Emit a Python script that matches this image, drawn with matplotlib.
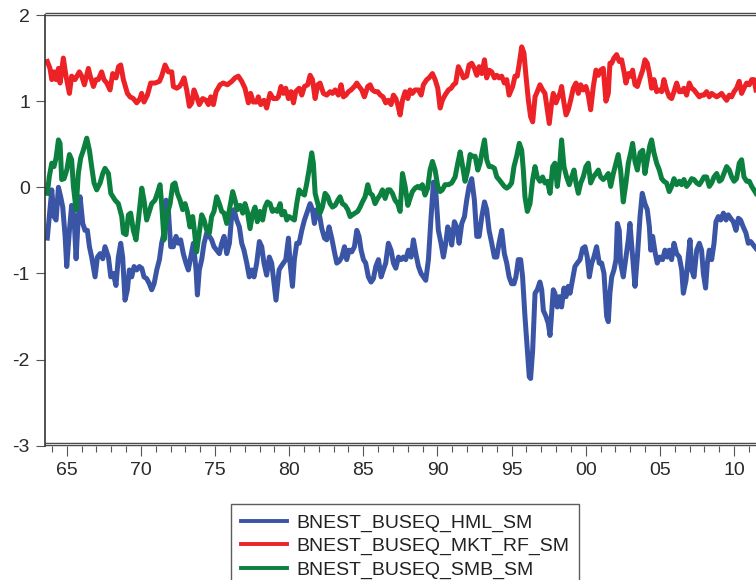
import matplotlib
matplotlib.use("Agg")
import matplotlib.pyplot as plt
from matplotlib.lines import Line2D
from matplotlib.transforms import ScaledTranslation

plt.rcParams['font.family'] = ['Liberation Sans', 'DejaVu Sans']
plt.rcParams['axes.unicode_minus'] = False

# ---- series (fractional year, value) ----
hml_t = [1963.69, 1963.87, 1963.99, 1964.14, 1964.28, 1964.44, 1964.59, 1964.73, 1964.89, 1965.00,
         1965.18, 1965.33, 1965.49, 1965.63, 1965.78, 1965.90, 1966.08, 1966.23, 1966.39, 1966.53,
         1966.68, 1966.91, 1967.07, 1967.25, 1967.43, 1967.58, 1967.81, 1967.97, 1968.14, 1968.32,
         1968.48, 1968.64, 1968.77, 1968.93, 1969.09, 1969.22, 1969.38, 1969.54, 1969.72, 1969.90,
         1970.06, 1970.21, 1970.39, 1970.57, 1970.73, 1970.89, 1971.07, 1971.25, 1971.40, 1971.56,
         1971.70, 1971.85, 1972.01, 1972.19, 1972.37, 1972.53, 1972.68, 1972.86, 1973.04, 1973.20,
         1973.36, 1973.54, 1973.72, 1973.81, 1973.94, 1974.10, 1974.26, 1974.44, 1974.62, 1974.77,
         1974.93, 1975.11, 1975.29, 1975.45, 1975.61, 1975.79, 1975.97, 1976.12, 1976.28, 1976.46,
         1976.64, 1976.80, 1976.95, 1977.14, 1977.31, 1977.47, 1977.63, 1977.81, 1977.99, 1978.15,
         1978.30, 1978.48, 1978.66, 1978.82, 1978.98, 1979.11,
         1979.32, 1979.45, 1979.61, 1979.77, 1979.95, 1980.06, 1980.22, 1980.35, 1980.51, 1980.67,
         1980.85, 1981.03, 1981.19, 1981.41, 1981.57, 1981.70, 1981.86, 1982.02, 1982.20, 1982.38,
         1982.53, 1982.69, 1982.87, 1983.05, 1983.21, 1983.37, 1983.55, 1983.73, 1983.88, 1984.04,
         1984.22, 1984.40, 1984.56, 1984.71, 1984.85, 1985.01, 1985.16, 1985.34, 1985.52, 1985.68,
         1985.84, 1986.02, 1986.20, 1986.35, 1986.51, 1986.69, 1986.87, 1987.03, 1987.19, 1987.37,
         1987.55, 1987.70, 1987.86, 1988.04, 1988.22, 1988.38, 1988.54, 1988.72, 1988.89, 1989.05,
         1989.21, 1989.39, 1989.57, 1989.73, 1989.88, 1990.06, 1990.24, 1990.40, 1990.56, 1990.69,
         1990.85, 1990.96, 1991.14, 1991.30, 1991.46, 1991.64, 1991.82, 1991.97, 1992.13, 1992.31,
         1992.49, 1992.65, 1992.81, 1992.99, 1993.17, 1993.32, 1993.48, 1993.66, 1993.84, 1994.00,
         1994.15, 1994.33, 1994.51, 1994.67, 1994.83,
         1995.00, 1995.16, 1995.29, 1995.45, 1995.61, 1995.74, 1995.90, 1996.06, 1996.19, 1996.28,
         1996.42, 1996.58, 1996.73, 1996.91, 1997.03, 1997.14, 1997.32, 1997.47, 1997.59, 1997.70,
         1997.81, 1997.92, 1998.08, 1998.22, 1998.37, 1998.53, 1998.67, 1998.82, 1998.94, 1999.12,
         1999.27, 1999.43, 1999.61, 1999.79, 1999.95, 2000.10, 2000.24, 2000.40, 2000.55, 2000.73,
         2000.91, 2001.07, 2001.23, 2001.41, 2001.52, 2001.63, 2001.75, 2001.90, 2002.04, 2002.13,
         2002.26, 2002.35, 2002.53, 2002.71, 2002.87, 2002.98, 2003.16, 2003.32, 2003.48, 2003.66,
         2003.81, 2003.99, 2004.15, 2004.29, 2004.38, 2004.51, 2004.67, 2004.82, 2005.00, 2005.18,
         2005.34, 2005.50, 2005.63, 2005.79, 2005.95, 2006.13, 2006.31, 2006.47, 2006.58, 2006.76,
         2006.91, 2007.03, 2007.14, 2007.30, 2007.48, 2007.66, 2007.81, 2007.93, 2008.08, 2008.20,
         2008.33, 2008.49, 2008.65, 2008.78, 2008.94, 2009.10, 2009.28, 2009.46, 2009.61, 2009.77,
         2009.95, 2010.13, 2010.29, 2010.44, 2010.62, 2010.80, 2010.96, 2011.12, 2011.30, 2011.48]
hml_v = [-0.59, -0.26, -0.03, -0.34, -0.38, 0.00, -0.11, -0.23, -0.57, -0.92,
         -0.50, -0.21, -0.34, -0.83, -0.34, -0.11, -0.42, -0.50, -0.50, -0.69,
         -0.81, -1.04, -0.81, -0.77, -0.83, -0.69, -0.81, -1.04, -1.00, -1.14,
         -0.81, -0.65, -0.81, -1.31, -1.19, -0.96, -1.04, -0.92, -0.96, -0.92,
         -0.94, -1.04, -1.06, -1.12, -1.19, -1.12, -0.96, -0.84, -0.65, -0.53,
         -0.15, -0.26, -0.69, -0.69, -0.57, -0.65, -0.61, -0.77, -0.88, -0.96,
         -0.81, -0.65, -0.96, -1.25, -0.96, -0.84, -0.65, -0.53, -0.57, -0.61,
         -0.69, -0.73, -0.77, -0.65, -0.57, -0.77, -0.65, -0.34, -0.26, -0.38,
         -0.46, -0.65, -0.73, -0.88, -1.04, -0.96, -1.04, -0.88, -0.63, -0.69,
         -0.88, -1.02, -0.81, -0.88, -1.12, -1.31,
         -0.96, -0.92, -0.88, -0.84, -0.59, -0.88, -1.15, -0.84, -0.65, -0.65,
         -0.50, -0.38, -0.30, -0.19, -0.26, -0.42, -0.26, -0.30, -0.48, -0.59,
         -0.61, -0.46, -0.59, -0.75, -0.88, -0.86, -0.81, -0.69, -0.84, -0.73,
         -0.75, -0.69, -0.50, -0.57, -0.73, -0.84, -0.88, -1.04, -1.10, -1.06,
         -0.92, -0.84, -1.04, -0.96, -0.88, -0.65, -0.73, -0.88, -0.94, -0.81,
         -0.84, -0.81, -0.84, -0.73, -0.81, -0.61, -0.77, -0.92, -1.00, -1.04,
         -1.08, -0.84, -0.34, 0.06, -0.03, -0.50, -0.65, -0.81, -0.65, -0.46,
         -0.53, -0.67, -0.40, -0.46, -0.65, -0.42, -0.34, -0.15, 0.01, 0.10,
         -0.15, -0.57, -0.57, -0.34, -0.17, -0.26, -0.50, -0.65, -0.81, -0.81,
         -0.65, -0.50, -0.77, -0.88, -1.04,
         -1.12, -1.12, -1.04, -0.84, -0.84, -1.04, -1.50, -1.89, -2.20, -2.22,
         -1.89, -1.23, -1.19, -1.10, -1.19, -1.43, -1.50, -1.58, -1.72, -1.46,
         -1.19, -1.23, -1.39, -1.27, -1.39, -1.17, -1.27, -1.15, -1.23, -1.06,
         -0.92, -0.88, -0.84, -0.71, -0.69, -0.81, -1.04, -0.88, -0.81, -0.69,
         -0.88, -0.88, -1.00, -1.50, -1.56, -1.23, -1.04, -0.96, -0.84, -0.42,
         -0.50, -0.88, -1.04, -0.81, -0.61, -0.42, -0.81, -1.15, -0.81, -0.34,
         -0.07, -0.19, -0.26, -0.46, -0.73, -0.57, -0.75, -0.88, -0.81, -0.84,
         -0.73, -0.81, -0.73, -0.84, -0.65, -0.77, -0.81, -0.96, -1.23, -1.08,
         -0.81, -0.61, -0.96, -1.04, -0.73, -0.65, -0.73, -1.00, -1.17, -0.88,
         -0.73, -0.84, -0.65, -0.40, -0.34, -0.38, -0.30, -0.38, -0.32, -0.36,
         -0.40, -0.50, -0.36, -0.38, -0.46, -0.53, -0.65, -0.63, -0.67, -0.71]

mkt_t = [1963.69, 1963.87, 1963.99, 1964.14, 1964.28, 1964.44, 1964.55, 1964.77, 1964.95, 1965.18,
         1965.33, 1965.56, 1965.85, 1966.01, 1966.19, 1966.46, 1966.57, 1966.80, 1966.97, 1967.13,
         1967.35, 1967.51, 1967.70, 1967.92, 1968.10, 1968.33, 1968.49, 1968.64, 1968.82, 1969.09,
         1969.27, 1969.49, 1969.72, 1969.94, 1970.05, 1970.21, 1970.44, 1970.66, 1970.95, 1971.25,
         1971.40, 1971.63, 1971.85, 1972.08, 1972.19, 1972.42, 1972.60, 1972.75, 1972.91, 1973.09,
         1973.27, 1973.43, 1973.58, 1973.76, 1973.94, 1974.17, 1974.39, 1974.55, 1974.71, 1974.89,
         1975.07, 1975.34, 1975.56, 1975.83, 1976.13, 1976.35, 1976.57, 1976.80, 1977.02, 1977.25,
         1977.40, 1977.58, 1977.81, 1977.92, 1978.08, 1978.30, 1978.48, 1978.71, 1978.93, 1979.16,
         1979.27, 1979.45, 1979.61, 1979.77, 1979.95, 1980.13, 1980.29, 1980.44, 1980.67, 1980.85,
         1981.03, 1981.25, 1981.41, 1981.57, 1981.75, 1981.93, 1982.08, 1982.31, 1982.53, 1982.76,
         1982.92, 1983.10, 1983.32, 1983.50, 1983.66, 1983.82, 1984.00, 1984.17, 1984.40, 1984.56,
         1984.71, 1984.89, 1985.07, 1985.30, 1985.46, 1985.61, 1985.79, 1985.97, 1986.15, 1986.33,
         1986.51, 1986.69, 1986.87, 1987.03, 1987.19, 1987.32, 1987.48, 1987.64, 1987.82, 1988.00,
         1988.15, 1988.31, 1988.49, 1988.72, 1988.90, 1989.05, 1989.28, 1989.43, 1989.66, 1989.84,
         1990.02, 1990.18, 1990.33, 1990.51, 1990.74, 1990.92, 1991.08, 1991.23, 1991.41, 1991.59,
         1991.75, 1991.97, 1992.13, 1992.31, 1992.49, 1992.65, 1992.81, 1992.99, 1993.17, 1993.32,
         1993.48, 1993.66, 1993.84, 1994.00, 1994.15, 1994.33, 1994.51, 1994.67, 1994.83,
         1995.07, 1995.23, 1995.38, 1995.52, 1995.68, 1995.83, 1995.97, 1996.13, 1996.28, 1996.42,
         1996.58, 1996.73, 1996.91, 1997.09, 1997.25, 1997.41, 1997.54, 1997.70, 1997.81, 1997.99,
         1998.15, 1998.26, 1998.37, 1998.53, 1998.67, 1998.82, 1998.98, 1999.16, 1999.34, 1999.50,
         1999.66, 1999.83, 2000.01, 2000.17, 2000.33, 2000.51, 2000.69, 2000.85, 2001.00, 2001.18,
         2001.36, 2001.52, 2001.63, 2001.75, 2001.90, 2002.08, 2002.26, 2002.42, 2002.58, 2002.71,
         2002.87, 2003.03, 2003.16, 2003.32, 2003.48, 2003.66, 2003.84, 2003.99, 2004.15, 2004.29,
         2004.44, 2004.60, 2004.78, 2004.96, 2005.12, 2005.27, 2005.45, 2005.63, 2005.79, 2005.95,
         2006.13, 2006.31, 2006.47, 2006.62, 2006.80, 2006.98, 2007.14, 2007.30, 2007.48, 2007.66,
         2007.81, 2007.97, 2008.15, 2008.33, 2008.49, 2008.65, 2008.83, 2009.01, 2009.16, 2009.32,
         2009.50, 2009.68, 2009.84, 2010.00, 2010.17, 2010.35, 2010.51, 2010.67, 2010.85, 2011.03,
         2011.19, 2011.34, 2011.48]
mkt_v = [1.46, 1.38, 1.25, 1.34, 1.25, 1.38, 1.21, 1.50, 1.29, 1.09,
         1.29, 1.25, 1.34, 1.29, 1.19, 1.38, 1.30, 1.17, 1.25, 1.25,
         1.34, 1.25, 1.21, 1.13, 1.32, 1.27, 1.40, 1.42, 1.25, 1.09,
         1.05, 1.03, 0.98, 1.03, 1.09, 0.99, 1.07, 1.21, 1.21, 1.23,
         1.29, 1.42, 1.34, 1.34, 1.17, 1.15, 1.17, 1.21, 1.27, 1.13,
         0.94, 0.98, 1.13, 1.05, 0.96, 1.03, 1.01, 0.96, 1.05, 0.96,
         1.11, 1.19, 1.21, 1.19, 1.23, 1.27, 1.29, 1.23, 1.15, 0.98,
         1.09, 0.99, 0.99, 1.05, 0.96, 1.01, 0.92, 1.09, 1.03, 1.03,
         1.05, 1.17, 1.09, 1.15, 1.03, 1.11, 0.98, 1.11, 1.15, 1.07,
         1.17, 1.19, 1.30, 1.25, 1.03, 1.19, 1.21, 1.09, 1.07, 1.11,
         1.09, 1.13, 1.07, 1.19, 1.05, 1.07, 1.11, 1.13, 1.17, 1.21,
         1.17, 1.13, 1.05, 1.17, 1.19, 1.13, 1.11, 1.11, 1.07, 1.05,
         0.98, 1.01, 0.96, 1.07, 1.03, 0.96, 0.84, 1.01, 1.11, 1.03,
         1.13, 1.09, 1.13, 1.13, 1.07, 1.19, 1.25, 1.27, 1.32, 1.25,
         1.15, 0.92, 1.01, 1.07, 1.13, 1.15, 1.19, 1.21, 1.40, 1.34,
         1.27, 1.29, 1.42, 1.44, 1.38, 1.30, 1.40, 1.32, 1.48, 1.27,
         1.36, 1.34, 1.27, 1.30, 1.27, 1.29, 1.21, 1.25, 1.07,
         1.17, 1.29, 1.29, 1.44, 1.63, 1.56, 1.29, 1.01, 0.82, 0.76,
         1.05, 1.11, 1.19, 1.13, 1.09, 0.90, 0.74, 0.98, 1.09, 0.98,
         1.05, 1.09, 1.17, 0.98, 0.84, 0.90, 1.01, 1.15, 1.21, 1.09,
         1.19, 1.13, 1.17, 1.07, 0.90, 1.17, 1.36, 1.30, 1.36, 1.38,
         1.00, 1.09, 1.44, 1.44, 1.50, 1.54, 1.46, 1.48, 1.34, 1.21,
         1.32, 1.29, 1.36, 1.19, 1.17, 1.27, 1.36, 1.48, 1.44, 1.32,
         1.15, 1.25, 1.11, 1.13, 1.11, 1.25, 1.13, 1.05, 1.03, 1.11,
         1.21, 1.11, 1.11, 1.15, 1.07, 1.21, 1.15, 1.13, 1.09, 1.05,
         1.07, 1.07, 1.11, 1.05, 1.09, 1.07, 1.05, 1.07, 1.09, 1.05,
         1.01, 1.07, 1.05, 1.11, 1.15, 1.23, 1.09, 1.15, 1.21, 1.19,
         1.25, 1.25, 1.13]

smb_t = [1963.69, 1963.82, 1963.99, 1964.14, 1964.28, 1964.44, 1964.55, 1964.66, 1964.82, 1965.00,
         1965.18, 1965.33, 1965.45, 1965.63, 1965.78, 1965.94, 1966.12, 1966.35, 1966.53, 1966.68,
         1966.84, 1967.02, 1967.25, 1967.43, 1967.58, 1967.81, 1967.97, 1968.26, 1968.48, 1968.71,
         1968.82, 1969.00, 1969.16, 1969.31, 1969.49, 1969.67, 1969.83, 1970.06, 1970.21, 1970.39,
         1970.57, 1970.73, 1970.95, 1971.11, 1971.29, 1971.40, 1971.56, 1971.74, 1971.97, 1972.15,
         1972.30, 1972.46, 1972.64, 1972.82, 1972.98, 1973.13, 1973.31, 1973.49, 1973.58, 1973.76,
         1973.94, 1974.10, 1974.26, 1974.44, 1974.62, 1974.77, 1974.93, 1975.11, 1975.29, 1975.45,
         1975.61, 1975.79, 1975.97, 1976.19, 1976.35, 1976.51, 1976.69, 1976.87, 1977.02, 1977.18,
         1977.36, 1977.54, 1977.70, 1977.85, 1978.03, 1978.21, 1978.37, 1978.53, 1978.71, 1978.87,
         1979.05, 1979.20,
         1979.39, 1979.50, 1979.68, 1979.84, 1979.99, 1980.17, 1980.35, 1980.51, 1980.67, 1980.85,
         1981.03, 1981.19, 1981.34, 1981.52, 1981.63, 1981.75, 1981.93, 1982.08, 1982.24, 1982.42,
         1982.60, 1982.76, 1982.92, 1983.10, 1983.28, 1983.43, 1983.59, 1983.77, 1983.95, 1984.11,
         1984.26, 1984.44, 1984.62, 1984.78, 1984.94, 1985.12, 1985.30, 1985.46, 1985.61, 1985.79,
         1985.97, 1986.13, 1986.29, 1986.47, 1986.65, 1986.80, 1986.96, 1987.14, 1987.32, 1987.48,
         1987.64, 1987.82, 1988.00, 1988.15, 1988.31, 1988.49, 1988.67, 1988.83, 1988.98, 1989.16,
         1989.34, 1989.50, 1989.66, 1989.84, 1990.02, 1990.18, 1990.33, 1990.51, 1990.74, 1990.96,
         1991.19, 1991.37, 1991.53, 1991.68, 1991.86, 1992.04, 1992.20, 1992.36, 1992.54, 1992.72,
         1992.87, 1993.03, 1993.17, 1993.32, 1993.48, 1993.66, 1993.84, 1994.00, 1994.15, 1994.33,
         1994.51, 1994.67, 1994.83,
         1995.00, 1995.16, 1995.34, 1995.52, 1995.68, 1995.79, 1995.90, 1996.06, 1996.24, 1996.42,
         1996.58, 1996.73, 1996.91, 1997.09, 1997.25, 1997.41, 1997.59, 1997.77, 1997.92, 1998.08,
         1998.22, 1998.37, 1998.53, 1998.71, 1998.89, 1999.05, 1999.21, 1999.34, 1999.50, 1999.66,
         1999.83, 2000.01, 2000.17, 2000.33, 2000.51, 2000.69, 2000.85, 2001.00, 2001.18, 2001.36,
         2001.52, 2001.68, 2001.86, 2002.04, 2002.19, 2002.35, 2002.53, 2002.71, 2002.87, 2003.03,
         2003.16, 2003.32, 2003.48, 2003.66, 2003.84, 2003.99, 2004.15, 2004.33, 2004.44, 2004.60,
         2004.78, 2004.96, 2005.12, 2005.27, 2005.45, 2005.63, 2005.79, 2005.95, 2006.13, 2006.31,
         2006.47, 2006.62, 2006.80, 2006.98, 2007.14, 2007.30, 2007.48, 2007.66, 2007.81, 2007.97,
         2008.15, 2008.33, 2008.49, 2008.65, 2008.83, 2009.01, 2009.16, 2009.32, 2009.50, 2009.68,
         2009.84, 2010.00, 2010.17, 2010.35, 2010.51, 2010.67, 2010.85, 2011.03, 2011.19, 2011.34,
         2011.48]
smb_v = [-0.07, 0.12, 0.28, 0.24, 0.34, 0.55, 0.51, 0.09, 0.10, 0.20,
         0.38, 0.32, 0.01, -0.26, 0.16, 0.34, 0.43, 0.57, 0.43, 0.24,
         0.05, -0.03, 0.05, 0.16, 0.22, 0.16, -0.07, -0.15, -0.19, -0.34,
         -0.53, -0.55, -0.32, -0.30, -0.50, -0.61, -0.38, -0.01, -0.15, -0.38,
         -0.28, -0.19, -0.15, -0.07, 0.03, -0.19, -0.61, -0.34, -0.19, 0.03,
         0.05, -0.07, -0.15, -0.26, -0.19, -0.28, -0.46, -0.34, -0.46, -0.75,
         -0.52, -0.32, -0.38, -0.50, -0.53, -0.34, -0.28, -0.11, -0.19, -0.28,
         -0.30, -0.42, -0.26, -0.05, -0.15, -0.26, -0.21, -0.30, -0.19, -0.28,
         -0.48, -0.30, -0.23, -0.40, -0.28, -0.38, -0.23, -0.17, -0.19, -0.28,
         -0.26, -0.28,
         -0.19, -0.32, -0.28, -0.38, -0.34, -0.36, -0.38, -0.19, -0.03, -0.07,
         -0.09, 0.05, 0.20, 0.40, 0.28, -0.07, -0.19, -0.30, -0.23, -0.07,
         -0.11, -0.19, -0.23, -0.21, -0.15, -0.11, -0.19, -0.21, -0.26, -0.34,
         -0.32, -0.30, -0.28, -0.23, -0.17, -0.11, 0.03, -0.07, -0.09, -0.19,
         -0.13, -0.09, -0.03, -0.13, -0.03, -0.03, -0.07, -0.15, -0.19, -0.28,
         0.16, 0.01, -0.21, -0.13, -0.05, -0.01, 0.01, -0.01, 0.03, -0.09,
         -0.01, 0.20, 0.30, 0.20, 0.01, -0.05, -0.03, 0.03, 0.03, 0.05,
         0.12, 0.28, 0.41, 0.26, 0.07, 0.20, 0.38, 0.36, 0.36, 0.20,
         0.28, 0.43, 0.55, 0.32, 0.24, 0.24, 0.22, 0.12, 0.09, 0.05,
         0.01, -0.01, 0.01,
         0.05, 0.24, 0.36, 0.51, 0.43, 0.20, -0.11, -0.28, -0.19, 0.09,
         0.24, 0.12, 0.07, 0.12, 0.05, 0.07, -0.07, 0.24, 0.28, 0.01,
         0.20, 0.55, 0.24, 0.12, 0.03, 0.12, 0.20, 0.05, -0.07, 0.05,
         0.12, 0.24, 0.28, 0.05, 0.12, 0.16, 0.20, 0.12, 0.09, 0.12,
         0.16, 0.01, 0.16, 0.28, 0.38, 0.20, -0.17, 0.05, 0.28, 0.40,
         0.51, 0.30, 0.20, 0.40, 0.43, 0.16, 0.32, 0.49, 0.55, 0.40,
         0.28, 0.20, 0.10, 0.07, 0.05, -0.05, 0.01, 0.10, 0.03, 0.07,
         0.03, 0.09, 0.01, 0.05, 0.10, 0.09, 0.05, 0.03, 0.07, 0.12,
         0.12, 0.01, 0.05, 0.12, 0.16, 0.07, 0.09, 0.16, 0.24, 0.20,
         0.12, 0.07, 0.10, 0.28, 0.32, 0.12, 0.07, 0.07, 0.01, -0.03,
         -0.07]

series_labels = ['BNEST_BUSEQ_HML_SM', 'BNEST_BUSEQ_MKT_RF_SM', 'BNEST_BUSEQ_SMB_SM']
series_colors = ['#3b55a6', '#ec2227', '#0b803f']

ytick_values = [-3, -2, -1, 0, 1, 2]
xtick_years = [1965, 1970, 1975, 1980, 1985, 1990, 1995, 2000, 2005, 2010]
xtick_labels = ['65', '70', '75', '80', '85', '90', '95', '00', '05', '10']

W, H, DPI = 756, 580, 100
fig = plt.figure(figsize=(W / DPI, H / DPI), dpi=DPI)
ax = fig.add_axes([44.5 / W, 1 - 445.7 / H, 715.5 / W, 430.7 / H])

lw = 3.6
for t, v, c, lab in zip([hml_t, mkt_t, smb_t], [hml_v, mkt_v, smb_v],
                        series_colors, series_labels):
    ax.plot(t, v, color=c, lw=lw, label=lab, solid_joinstyle='round')

ax.set_xlim(1963.5, 2011.75)
ax.set_ylim(-3, 2)

ax.set_yticks(ytick_values)
ax.set_yticklabels([str(v) for v in ytick_values])
ax.set_xticks(xtick_years)
ax.set_xticklabels(xtick_labels)
ax.set_xticks(list(range(1964, 2012)), minor=True)

tick_col = '#555555'
ax.tick_params(axis='y', direction='out', length=6.5, width=0.8, color=tick_col,
               labelsize=14, labelcolor='#2a2a2a', pad=4)
ax.tick_params(axis='x', which='major', direction='out', length=7.5, width=0.8,
               color=tick_col, labelsize=14, labelcolor='#2a2a2a', pad=4.5)
ax.tick_params(axis='x', which='minor', direction='out', length=4.3, width=0.8,
               color=tick_col)

for s in ['top', 'bottom', 'right']:
    ax.spines[s].set_visible(False)
ax.spines['left'].set_color('#333333')
ax.spines['left'].set_linewidth(1.2)


def frame_band(y_axes, dy_px):
    tr = ax.transAxes + ScaledTranslation(0, dy_px / DPI, fig.dpi_scale_trans)
    ax.add_line(Line2D([0, 1], [y_axes, y_axes], transform=tr, color='#3c3c3c',
                       lw=3.4 * 72 / DPI, clip_on=False, solid_capstyle='butt'))
    ax.add_line(Line2D([0, 1], [y_axes, y_axes], transform=tr, color='#d4d4d4',
                       lw=1.2 * 72 / DPI, clip_on=False, solid_capstyle='butt'))


frame_band(1.0, 1.2)
frame_band(0.0, 1.4)

leg = fig.legend(loc='upper left', bbox_to_anchor=(231 / W, 1 - 504 / H),
                 frameon=True, fancybox=False, shadow=False, fontsize=14,
                 handlelength=2.4, handletextpad=0.45, labelspacing=0.3,
                 borderpad=0.5, borderaxespad=0.0)
leg.get_frame().set_edgecolor('#333333')
leg.get_frame().set_linewidth(1.0)
for txt in leg.get_texts():
    txt.set_color('#222222')
for ln in leg.get_lines():
    ln.set_linewidth(2.8)

fig.savefig('out.png', dpi=DPI)
